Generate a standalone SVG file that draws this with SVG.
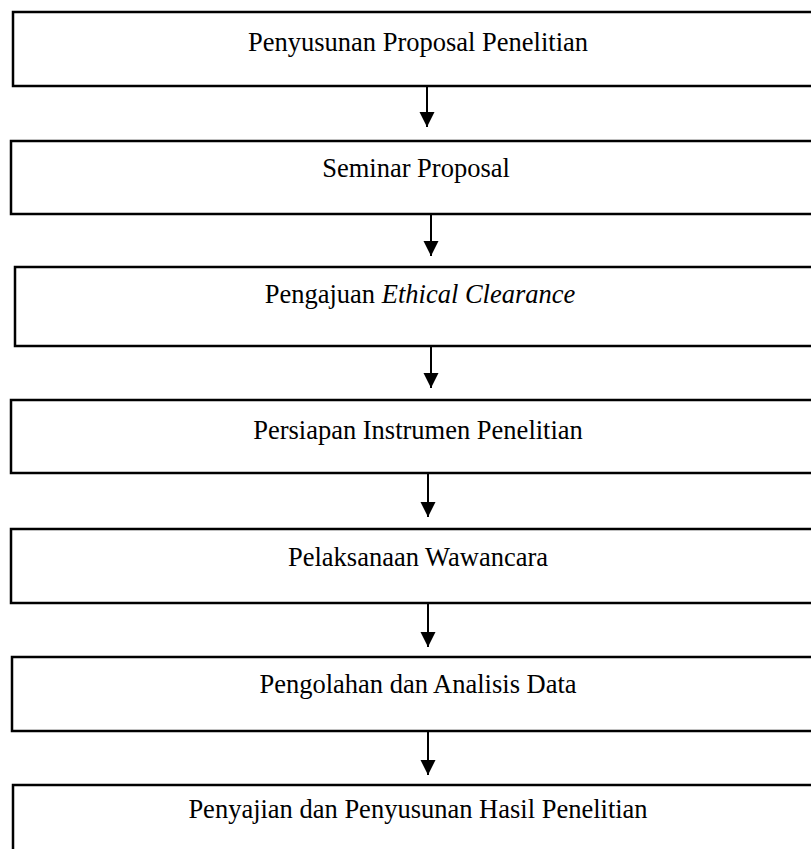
<svg xmlns="http://www.w3.org/2000/svg" width="811" height="849" viewBox="0 0 811 849">
<style>
.box{fill:#fff;stroke:#000;stroke-width:2.5}
.lbl{font-family:"Liberation Serif","Times New Roman",serif;font-size:26.5px;fill:#000;text-anchor:middle}
.conn{stroke:#000;stroke-width:2;fill:none;marker-end:url(#ah)}
</style>
<defs>
<marker id="ah" markerUnits="userSpaceOnUse" markerWidth="16" markerHeight="16" refX="15" refY="7.5" orient="auto">
<path d="M0,0 L15,7.5 L0,15 z" fill="#000"/>
</marker>
</defs>
<rect width="811" height="849" fill="#fff"/>
<g id="n1"><rect class="box" x="13" y="12" width="820" height="74"/><text class="lbl" x="418" y="51">Penyusunan Proposal Penelitian</text></g>
<g id="n2"><rect class="box" x="11" y="141" width="820" height="73"/><text class="lbl" x="416" y="177">Seminar Proposal</text></g>
<g id="n3"><rect class="box" x="15" y="267" width="820" height="79"/><text class="lbl" x="420" y="303">Pengajuan <tspan font-style="italic">Ethical Clearance</tspan></text></g>
<g id="n4"><rect class="box" x="11" y="400" width="820" height="73"/><text class="lbl" x="418" y="439">Persiapan Instrumen Penelitian</text></g>
<g id="n5"><rect class="box" x="11" y="529" width="820" height="74"/><text class="lbl" x="418" y="566">Pelaksanaan Wawancara</text></g>
<g id="n6"><rect class="box" x="12" y="657" width="820" height="74"/><text class="lbl" x="418" y="693">Pengolahan dan Analisis Data</text></g>
<g id="n7"><rect class="box" x="13" y="785" width="820" height="100"/><text class="lbl" x="418" y="818">Penyajian dan Penyusunan Hasil Penelitian</text></g>
<g id="connectors">
<line class="conn" x1="427" y1="86" x2="427" y2="127"/>
<line class="conn" x1="431" y1="214" x2="431" y2="256"/>
<line class="conn" x1="431" y1="346" x2="431" y2="388"/>
<line class="conn" x1="428" y1="473" x2="428" y2="517"/>
<line class="conn" x1="428" y1="603" x2="428" y2="647"/>
<line class="conn" x1="428" y1="731" x2="428" y2="775"/>
</g>
</svg>
